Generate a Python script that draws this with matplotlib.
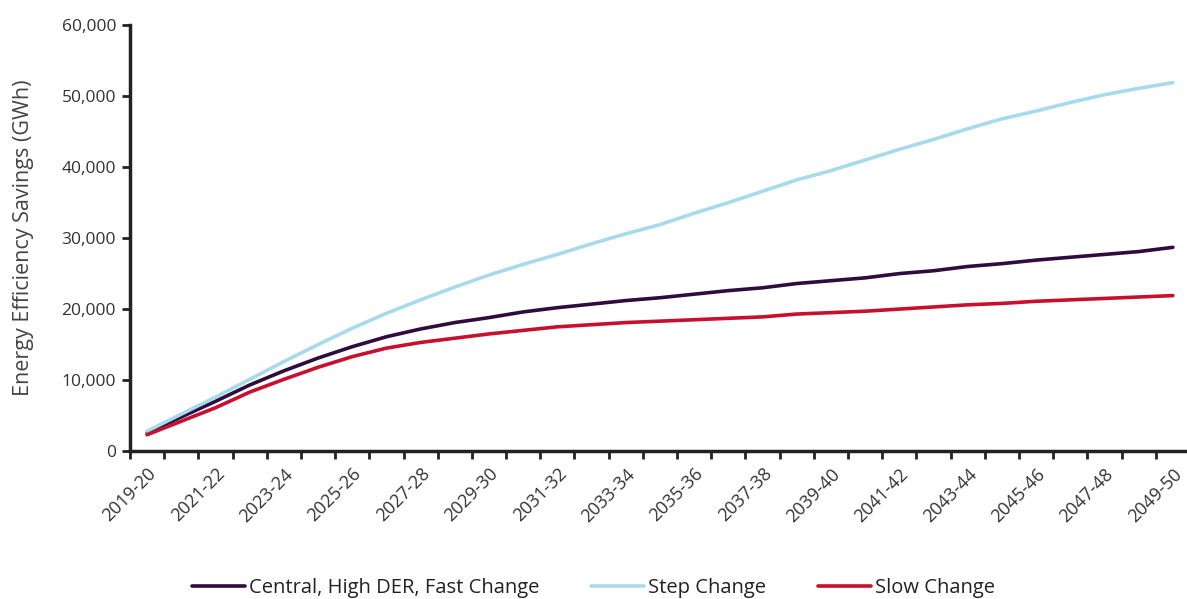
import matplotlib
matplotlib.use("Agg")
import matplotlib.pyplot as plt
from matplotlib.ticker import FuncFormatter

plt.rcParams['font.family'] = ['Open Sans', 'DejaVu Sans']

years = ["%d-%02d" % (y, (y + 1) % 100) for y in range(2019, 2050)]

central = [2600, 4800, 7000, 9300, 11300, 13100, 14700, 16100, 17200, 18100,
           18800, 19600, 20200, 20700, 21200, 21600, 22100, 22600, 23000, 23600,
           24000, 24400, 25000, 25400, 26000, 26400, 26900, 27300, 27700, 28100,
           28700]
step = [2800, 5200, 7600, 10100, 12600, 15000, 17300, 19400, 21300, 23100,
        24800, 26300, 27700, 29200, 30600, 31900, 33500, 35000, 36600, 38200,
        39500, 41000, 42500, 43900, 45400, 46800, 47900, 49100, 50200, 51100,
        51900]
slow = [2300, 4200, 6100, 8300, 10100, 11800, 13300, 14500, 15300, 15900,
        16500, 17000, 17500, 17800, 18100, 18300, 18500, 18700, 18900, 19300,
        19500, 19700, 20000, 20300, 20600, 20800, 21100, 21300, 21500, 21700,
        21900]

series_names = ["Central, High DER, Fast Change", "Step Change", "Slow Change"]
colors = ["#2e0c3f", "#a8dbea", "#c8102e"]

fig = plt.figure(figsize=(11.87, 5.99), dpi=100)
ax = fig.add_axes([0.1095, 0.247, 0.893, 0.711])

x = list(range(len(years)))
for vals, name, c in zip([central, step, slow], series_names, colors):
    ax.plot(x, vals, color=c, linewidth=2.6, label=name, solid_capstyle='round')

ax.set_xlim(-0.5, len(years) - 0.5)
ax.set_ylim(0, 60000)
ax.set_yticks(range(0, 60001, 10000))
ax.yaxis.set_major_formatter(FuncFormatter(lambda v, p: "{:,.0f}".format(v)))

# labels every other year, tick marks on category boundaries
ax.set_xticks(x[::2])
ax.set_xticklabels(years[::2], rotation=45, ha='right', rotation_mode='anchor')
ax.set_xticks([i - 0.5 for i in range(len(years) + 1)], minor=True)
ax.tick_params(axis='x', which='major', length=0, pad=10, labelsize=13, colors='#333333')
ax.tick_params(axis='x', which='minor', length=6, width=2, color='#222222', direction='out')
ax.tick_params(axis='y', length=6, width=2, color='#222222', labelsize=12.5,
               labelcolor='#333333', pad=4)

for s in ['top', 'right']:
    ax.spines[s].set_visible(False)
for s in ['left', 'bottom']:
    ax.spines[s].set_linewidth(2.5)
    ax.spines[s].set_color('#222222')

ax.set_ylabel("Energy Efficiency Savings (GWh)", fontsize=15.5, color='#444444', labelpad=20)

fig.legend(loc='lower center', bbox_to_anchor=(0.5, -0.028), ncol=3, frameon=False,
           fontsize=14.5, handlelength=2.6, columnspacing=2.6, handletextpad=0.2,
           labelcolor='#222222')

fig.savefig("out.png", dpi=100)
